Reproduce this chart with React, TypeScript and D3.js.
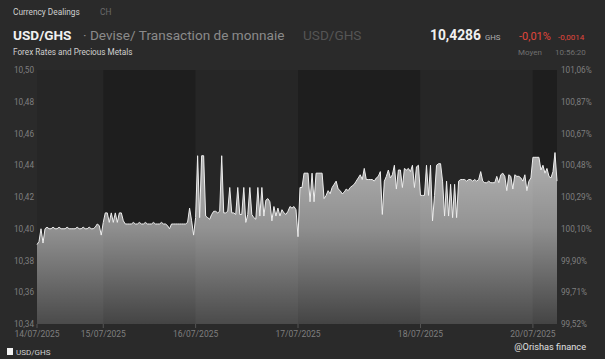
import React from 'react';
import * as d3 from 'd3';

// chart values
const dayLabels = ['14/07/2025', '15/07/2025', '16/07/2025', '17/07/2025', '18/07/2025', '20/07/2025'];

const d14 = [10.390, 10.392, 10.400, 10.391, 10.400, 10.401, 10.400, 10.400, 10.401, 10.400, 10.400, 10.401,
  10.400, 10.400, 10.400, 10.401, 10.400, 10.400, 10.400, 10.400, 10.401, 10.400, 10.400, 10.401, 10.400,
  10.400, 10.401, 10.400, 10.400, 10.401, 10.403, 10.402, 10.396];
const d15 = [10.404, 10.410, 10.410, 10.404, 10.410, 10.404, 10.410, 10.404, 10.410, 10.410, 10.405, 10.403,
  10.403, 10.403, 10.403, 10.404, 10.403, 10.403, 10.404, 10.403, 10.403, 10.404, 10.403, 10.403, 10.403,
  10.404, 10.403, 10.403, 10.403, 10.404, 10.403, 10.403, 10.402, 10.400, 10.403, 10.403, 10.403, 10.403,
  10.403, 10.403, 10.403, 10.403, 10.404, 10.413, 10.405, 10.396];
const d16 = [10.407, 10.446, 10.407, 10.446, 10.446, 10.408, 10.407, 10.406, 10.409, 10.411, 10.411, 10.410,
  10.411, 10.446, 10.410, 10.410, 10.411, 10.426, 10.410, 10.410, 10.409, 10.426, 10.409, 10.409, 10.426,
  10.404, 10.409, 10.426, 10.409, 10.407, 10.406, 10.426, 10.408, 10.426, 10.408, 10.418, 10.419, 10.417,
  10.405, 10.414, 10.408, 10.413, 10.408, 10.412, 10.410, 10.409, 10.411, 10.414, 10.413, 10.414, 10.412];
const d17 = [10.395, 10.426, 10.426, 10.435, 10.435, 10.435, 10.417, 10.435, 10.417, 10.435, 10.435, 10.435,
  10.435, 10.419, 10.421, 10.424, 10.422, 10.426, 10.428, 10.430, 10.425, 10.424, 10.422, 10.423, 10.425,
  10.424, 10.426, 10.427, 10.428, 10.430, 10.432, 10.434, 10.431, 10.438, 10.431, 10.431, 10.431, 10.431,
  10.430, 10.432, 10.433, 10.436, 10.409, 10.430, 10.433, 10.437, 10.432, 10.434, 10.440, 10.425, 10.437,
  10.437, 10.426, 10.438, 10.437, 10.438, 10.436, 10.440, 10.426, 10.439, 10.440];
const d18 = [10.421, 10.421, 10.421, 10.440, 10.421, 10.440, 10.405, 10.421, 10.440, 10.441, 10.441, 10.430,
  10.408, 10.430, 10.408, 10.428, 10.407, 10.428, 10.407, 10.430, 10.431, 10.431, 10.431, 10.430, 10.431,
  10.431, 10.430, 10.431, 10.430, 10.431, 10.436, 10.430, 10.429, 10.429, 10.430, 10.429, 10.429, 10.429,
  10.433, 10.429, 10.434, 10.435, 10.433, 10.424, 10.434, 10.433, 10.425, 10.434, 10.433, 10.433, 10.432,
  10.430, 10.434, 10.424, 10.430, 10.432];
const d20 = [10.445, 10.445, 10.445, 10.445, 10.437, 10.440, 10.435, 10.438, 10.433, 10.432, 10.436, 10.448, 10.430];

const days = [d14, d15, d16, d17, d18, d20];
const yTicks = [10.50, 10.48, 10.46, 10.44, 10.42, 10.40, 10.38, 10.36, 10.34];
const prevClose = 10.39;
const lastPrice = 10.4286;
const change = -0.0014;
const changePct = -0.01;

const width = 605;
const height = 359;
const marginLeft = 37;
const marginRight = 48;
const marginTop = 70;
const marginBottom = 35;

const fr = (v: number, n: number) => v.toFixed(n).replace('.', ',');

const App = () => {
  const series = days.flat();
  const dayStart: number[] = [];
  let acc = 0;
  days.forEach(d => { dayStart.push(acc); acc += d.length; });

  const x = d3.scaleLinear().domain([0, series.length - 1]).range([marginLeft, width - marginRight]);
  const y = d3.scaleLinear().domain([10.34, 10.50]).range([height - marginBottom, marginTop]);
  const yPct = d3.scaleLinear()
    .domain([10.34 / prevClose * 100, 10.50 / prevClose * 100])
    .range(y.range());

  const area = d3.area<number>().x((d, i) => x(i)).y0(y(10.34)).y1(d => y(d));
  const line = d3.line<number>().x((d, i) => x(i)).y(d => y(d));

  const font = 'Roboto, "Noto Sans", sans-serif';
  const axisCol = '#7f7f7f';

  return (
    <svg width={width} height={height} style={{ position: 'absolute', left: 0, top: 0, background: '#2a2a2a' }}
      fontFamily={font}>
      <defs>
        <linearGradient id="fillGrad" gradientUnits="userSpaceOnUse" x1="0" y1={y(10.45)} x2="0" y2={y(10.34)}>
          <stop offset="0" stopColor="#ffffff" stopOpacity={0.66} />
          <stop offset="0.45" stopColor="#ffffff" stopOpacity={0.5} />
          <stop offset="1" stopColor="#ffffff" stopOpacity={0.17} />
        </linearGradient>
      </defs>
      <rect width={width} height={height} fill="#2a2a2a" />

      {/* header */}
      <text x={13} y={15} fontSize={8.3} fill="#d0d0d0">Currency Dealings</text>
      <text x={100} y={15} fontSize={8.3} fill="#6a6a6a">CH</text>
      <text x={13} y={40} fontSize={13.6} fontWeight="bold" fill="#f0f0f0">USD/GHS</text>
      <text x={83} y={40} fontSize={13.6} fill="#8a8a8a">· Devise/ Transaction de monnaie</text>
      <text x={303} y={40} fontSize={13.6} fill="#555555">USD/GHS</text>
      <text x={13} y={55} fontSize={8.2} fill="#d0d0d0">Forex Rates and Precious Metals</text>

      <text x={430} y={40} fontSize={13.8} fontWeight="bold" fill="#f0f0f0">{fr(lastPrice, 4)}</text>
      <text x={485} y={40} fontSize={7.8} fill="#b0b0b0">GHS</text>
      <text x={519} y={40} fontSize={11} fill="#e0463c">{fr(changePct, 2)}%</text>
      <text x={558} y={40} fontSize={8} fill="#e0463c">{fr(change, 4)}</text>
      <text x={518} y={55} fontSize={8} fill="#707070">Moyen</text>
      <text x={555} y={55} fontSize={8} fill="#707070">10:56:20</text>

      {/* day bands */}
      {dayStart.map((s, i) => {
        const x0 = i === 0 ? marginLeft : x(s);
        const x1 = i < dayStart.length - 1 ? x(dayStart[i + 1]) : width - marginRight;
        return (
          <rect key={i} x={x0} y={marginTop} width={x1 - x0} height={y(10.34) - marginTop}
            fill={i % 2 === 0 ? '#262626' : '#1e1e1e'} />
        );
      })}

      {/* area + line */}
      <path d={area(series) || ''} fill="url(#fillGrad)" />
      <path d={line(series) || ''} fill="none" stroke="#eeeeee" strokeWidth={1} strokeLinejoin="round" />

      {/* left axis */}
      {yTicks.map(t => (
        <text key={t} x={34} y={y(t) + 3} fontSize={8.2} fill={axisCol} textAnchor="end">{fr(t, 2)}</text>
      ))}
      {/* right axis */}
      {yTicks.map(t => (
        <text key={t} x={561} y={yPct(t / prevClose * 100) + 3} fontSize={8.2} fill={axisCol}>
          {fr(t / prevClose * 100, 2)}%
        </text>
      ))}

      {/* date axis */}
      {dayStart.map((s, i) => (
        <g key={i} transform={`translate(${x(s)},${y(10.34)})`}>
          <line y1={0} y2={4} stroke="#555" />
          <text y={13} fontSize={8.5} fill={axisCol} textAnchor="middle">{dayLabels[i]}</text>
        </g>
      ))}

      <text x={586} y={350} fontSize={9.2} fill="#e0e0e0" textAnchor="end">@Orishas finance</text>

      {/* legend */}
      <rect x={7} y={348} width={6} height={7} fill="#f2f2f2" />
      <text x={16} y={355} fontSize={8} fill="#d0d0d0">USD/GHS</text>
    </svg>
  );
};

export default App;
